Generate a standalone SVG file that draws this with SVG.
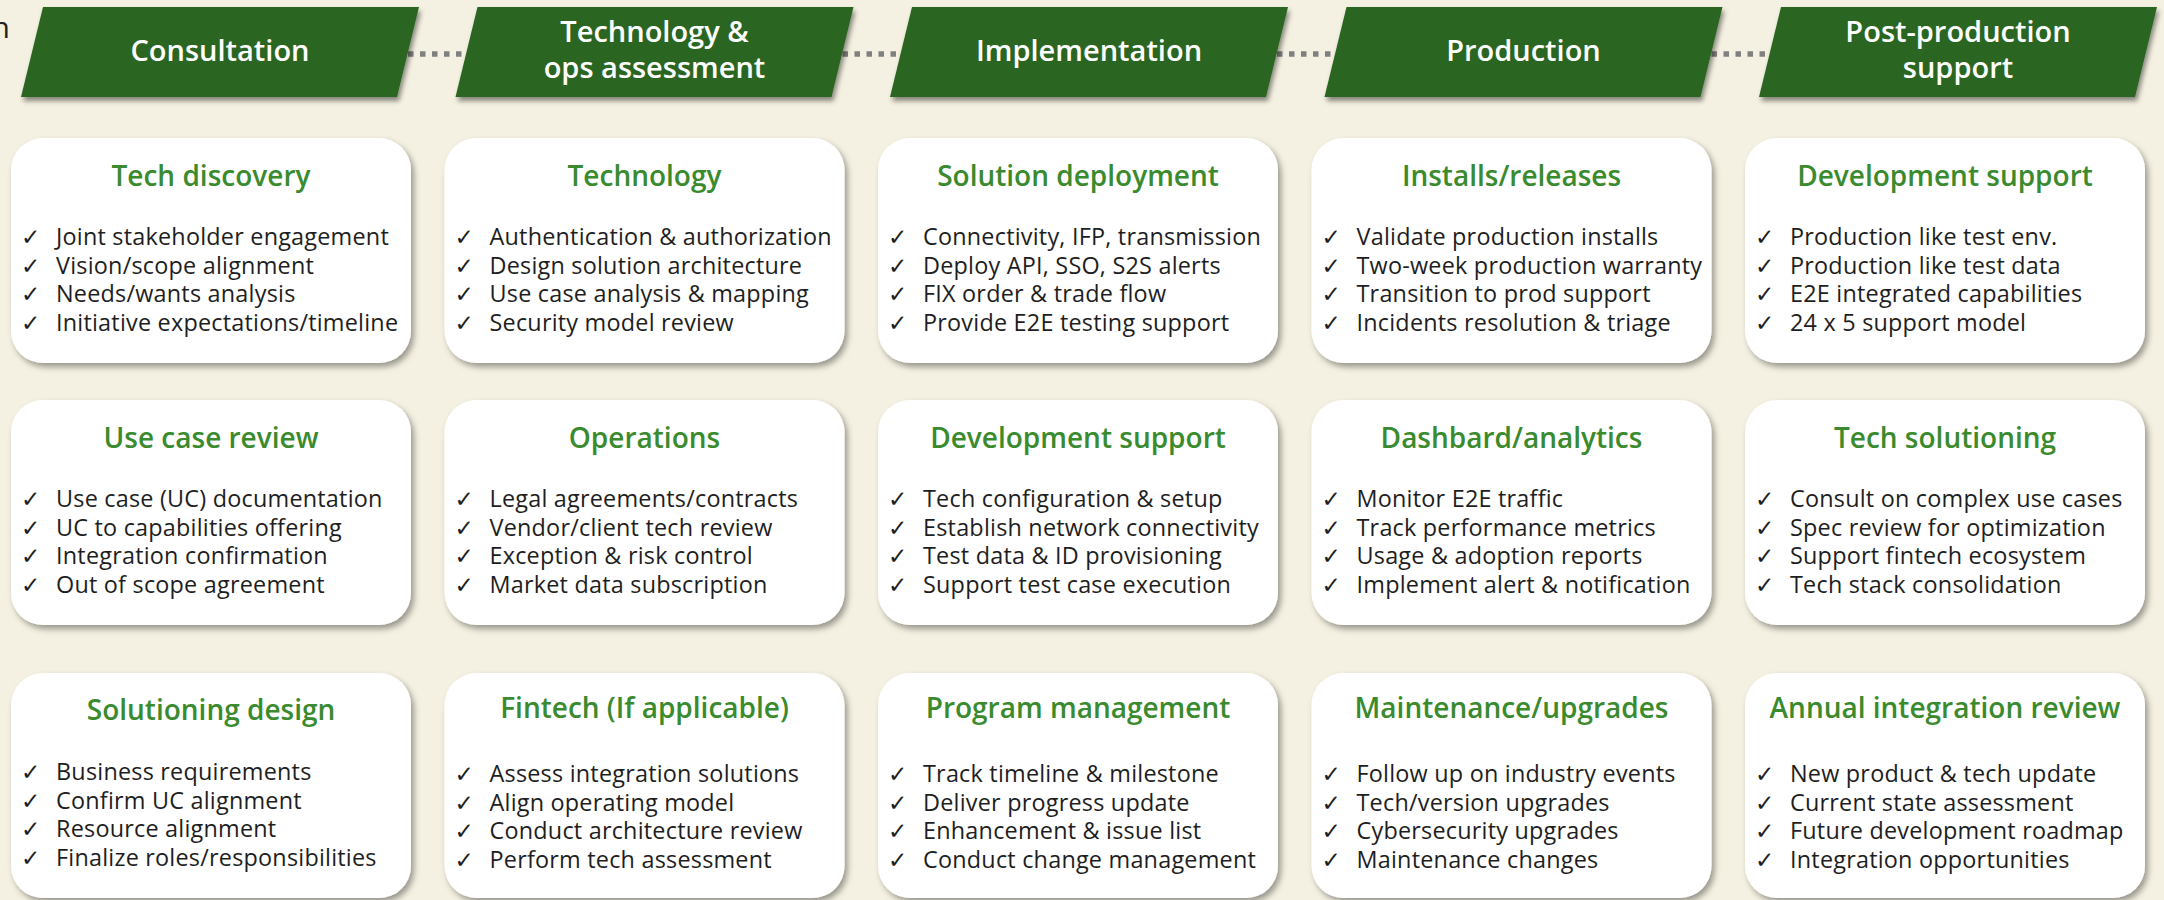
<svg xmlns="http://www.w3.org/2000/svg" width="2164" height="900" viewBox="0 0 2164 900">
  <defs>
    <filter id="hdrShadow" x="-5%" y="-10%" width="112%" height="130%">
      <feDropShadow dx="2" dy="4" stdDeviation="2.5" flood-color="#000" flood-opacity="0.45"/>
    </filter>
    <filter id="cardShadow" x="-5%" y="-5%" width="112%" height="115%">
      <feDropShadow dx="3" dy="4" stdDeviation="3" flood-color="#000" flood-opacity="0.38"/>
    </filter>
    <style>
      .phase { fill: #296621; filter: url(#hdrShadow); }
      .phase-label { font-family: "Open Sans", "Liberation Sans", sans-serif; font-weight: 600; font-size: 29px; fill: #ffffff; text-anchor: middle; }
      .card { fill: #ffffff; filter: url(#cardShadow); }
      .card-title { font-family: "Open Sans", "Liberation Sans", sans-serif; font-weight: 600; font-size: 28px; fill: #3a8a2e; text-anchor: middle; }
      .item { font-family: "Open Sans", "Liberation Sans", sans-serif; font-size: 23.4px; letter-spacing: 0.22px; fill: #1e1e1e; }
      .ck { font-family: "DejaVu Sans", sans-serif; font-size: 23px; letter-spacing: 0; fill: #1e1e1e; }
      .link { stroke: #808080; stroke-width: 5.5; stroke-dasharray: 5.5 6.5; fill: none; }
    </style>
  </defs>

  <!-- background -->
  <rect x="0" y="0" width="2164" height="900" fill="#f5f1e2"/>

  <!-- clipped letter at the far left edge -->
  <text x="10" y="38" font-family="Open Sans, Liberation Sans, sans-serif" font-size="30" fill="#222" text-anchor="end">n</text>

  <!-- dotted links between phases -->
  <g id="connectors">
    <line class="link" x1="408" y1="54" x2="466" y2="54"/>
    <line class="link" x1="842.5" y1="54" x2="900.5" y2="54"/>
    <line class="link" x1="1277" y1="54" x2="1335" y2="54"/>
    <line class="link" x1="1711.5" y1="54" x2="1769.5" y2="54"/>
  </g>

  <!-- phase headers (parallelograms) -->
  <g id="phase-consultation">
    <polygon class="phase" points="43,7 419,7 397,97 21,97"/>
    <text class="phase-label" x="220" y="61">Consultation</text>
  </g>
  <g id="phase-tech-ops">
    <polygon class="phase" points="477.5,7 853.5,7 831.5,97 455.5,97"/>
    <text class="phase-label"><tspan x="654.5" y="42">Technology &amp;</tspan><tspan x="654.5" y="77.5">ops assessment</tspan></text>
  </g>
  <g id="phase-implementation">
    <polygon class="phase" points="912,7 1288,7 1266,97 890,97"/>
    <text class="phase-label" x="1089" y="61">Implementation</text>
  </g>
  <g id="phase-production">
    <polygon class="phase" points="1346.5,7 1722.5,7 1700.5,97 1324.5,97"/>
    <text class="phase-label" x="1523.5" y="61">Production</text>
  </g>
  <g id="phase-post-production">
    <polygon class="phase" points="1781,7 2157,7 2135,97 1759,97"/>
    <text class="phase-label"><tspan x="1958" y="42">Post-production</tspan><tspan x="1958" y="77.5">support</tspan></text>
  </g>

  <!-- Row 1 -->
  <g id="card-tech-discovery">
    <rect class="card" x="11" y="138" width="400" height="225" rx="32"/>
    <text class="card-title" x="211" y="186">Tech discovery</text>
    <text class="item">
      <tspan class="ck" x="21" y="245">✓</tspan><tspan x="56" y="245">Joint stakeholder engagement</tspan>
      <tspan class="ck" x="21" y="274">✓</tspan><tspan x="56" y="274">Vision/scope alignment</tspan>
      <tspan class="ck" x="21" y="302">✓</tspan><tspan x="56" y="302">Needs/wants analysis</tspan>
      <tspan class="ck" x="21" y="331">✓</tspan><tspan x="56" y="331">Initiative expectations/timeline</tspan>
    </text>
  </g>
  <g id="card-technology">
    <rect class="card" x="444.5" y="138" width="400" height="225" rx="32"/>
    <text class="card-title" x="644.5" y="186">Technology</text>
    <text class="item">
      <tspan class="ck" x="454.5" y="245">✓</tspan><tspan x="489.5" y="245">Authentication &amp; authorization</tspan>
      <tspan class="ck" x="454.5" y="274">✓</tspan><tspan x="489.5" y="274">Design solution architecture</tspan>
      <tspan class="ck" x="454.5" y="302">✓</tspan><tspan x="489.5" y="302">Use case analysis &amp; mapping</tspan>
      <tspan class="ck" x="454.5" y="331">✓</tspan><tspan x="489.5" y="331">Security model review</tspan>
    </text>
  </g>
  <g id="card-solution-deployment">
    <rect class="card" x="878" y="138" width="400" height="225" rx="32"/>
    <text class="card-title" x="1078" y="186">Solution deployment</text>
    <text class="item">
      <tspan class="ck" x="888" y="245">✓</tspan><tspan x="923" y="245">Connectivity, IFP, transmission</tspan>
      <tspan class="ck" x="888" y="274">✓</tspan><tspan x="923" y="274">Deploy API, SSO, S2S alerts</tspan>
      <tspan class="ck" x="888" y="302">✓</tspan><tspan x="923" y="302">FIX order &amp; trade flow</tspan>
      <tspan class="ck" x="888" y="331">✓</tspan><tspan x="923" y="331">Provide E2E testing support</tspan>
    </text>
  </g>
  <g id="card-installs-releases">
    <rect class="card" x="1311.5" y="138" width="400" height="225" rx="32"/>
    <text class="card-title" x="1511.5" y="186">Installs/releases</text>
    <text class="item">
      <tspan class="ck" x="1321.5" y="245">✓</tspan><tspan x="1356.5" y="245">Validate production installs</tspan>
      <tspan class="ck" x="1321.5" y="274">✓</tspan><tspan x="1356.5" y="274">Two-week production warranty</tspan>
      <tspan class="ck" x="1321.5" y="302">✓</tspan><tspan x="1356.5" y="302">Transition to prod support</tspan>
      <tspan class="ck" x="1321.5" y="331">✓</tspan><tspan x="1356.5" y="331">Incidents resolution &amp; triage</tspan>
    </text>
  </g>
  <g id="card-development-support-post">
    <rect class="card" x="1745" y="138" width="400" height="225" rx="32"/>
    <text class="card-title" x="1945" y="186">Development support</text>
    <text class="item">
      <tspan class="ck" x="1755" y="245">✓</tspan><tspan x="1790" y="245">Production like test env.</tspan>
      <tspan class="ck" x="1755" y="274">✓</tspan><tspan x="1790" y="274">Production like test data</tspan>
      <tspan class="ck" x="1755" y="302">✓</tspan><tspan x="1790" y="302">E2E integrated capabilities</tspan>
      <tspan class="ck" x="1755" y="331">✓</tspan><tspan x="1790" y="331">24 x 5 support model</tspan>
    </text>
  </g>

  <!-- Row 2 -->
  <g id="card-use-case-review">
    <rect class="card" x="11" y="400" width="400" height="225" rx="32"/>
    <text class="card-title" x="211" y="448">Use case review</text>
    <text class="item">
      <tspan class="ck" x="21" y="507">✓</tspan><tspan x="56" y="507">Use case (UC) documentation</tspan>
      <tspan class="ck" x="21" y="536">✓</tspan><tspan x="56" y="536">UC to capabilities offering</tspan>
      <tspan class="ck" x="21" y="564">✓</tspan><tspan x="56" y="564">Integration confirmation</tspan>
      <tspan class="ck" x="21" y="593">✓</tspan><tspan x="56" y="593">Out of scope agreement</tspan>
    </text>
  </g>
  <g id="card-operations">
    <rect class="card" x="444.5" y="400" width="400" height="225" rx="32"/>
    <text class="card-title" x="644.5" y="448">Operations</text>
    <text class="item">
      <tspan class="ck" x="454.5" y="507">✓</tspan><tspan x="489.5" y="507">Legal agreements/contracts</tspan>
      <tspan class="ck" x="454.5" y="536">✓</tspan><tspan x="489.5" y="536">Vendor/client tech review</tspan>
      <tspan class="ck" x="454.5" y="564">✓</tspan><tspan x="489.5" y="564">Exception &amp; risk control</tspan>
      <tspan class="ck" x="454.5" y="593">✓</tspan><tspan x="489.5" y="593">Market data subscription</tspan>
    </text>
  </g>
  <g id="card-development-support-impl">
    <rect class="card" x="878" y="400" width="400" height="225" rx="32"/>
    <text class="card-title" x="1078" y="448">Development support</text>
    <text class="item">
      <tspan class="ck" x="888" y="507">✓</tspan><tspan x="923" y="507">Tech configuration &amp; setup</tspan>
      <tspan class="ck" x="888" y="536">✓</tspan><tspan x="923" y="536">Establish network connectivity</tspan>
      <tspan class="ck" x="888" y="564">✓</tspan><tspan x="923" y="564">Test data &amp; ID provisioning</tspan>
      <tspan class="ck" x="888" y="593">✓</tspan><tspan x="923" y="593">Support test case execution</tspan>
    </text>
  </g>
  <g id="card-dashboard-analytics">
    <rect class="card" x="1311.5" y="400" width="400" height="225" rx="32"/>
    <text class="card-title" x="1511.5" y="448">Dashbard/analytics</text>
    <text class="item">
      <tspan class="ck" x="1321.5" y="507">✓</tspan><tspan x="1356.5" y="507">Monitor E2E traffic</tspan>
      <tspan class="ck" x="1321.5" y="536">✓</tspan><tspan x="1356.5" y="536">Track performance metrics</tspan>
      <tspan class="ck" x="1321.5" y="564">✓</tspan><tspan x="1356.5" y="564">Usage &amp; adoption reports</tspan>
      <tspan class="ck" x="1321.5" y="593">✓</tspan><tspan x="1356.5" y="593">Implement alert &amp; notification</tspan>
    </text>
  </g>
  <g id="card-tech-solutioning">
    <rect class="card" x="1745" y="400" width="400" height="225" rx="32"/>
    <text class="card-title" x="1945" y="448">Tech solutioning</text>
    <text class="item">
      <tspan class="ck" x="1755" y="507">✓</tspan><tspan x="1790" y="507">Consult on complex use cases</tspan>
      <tspan class="ck" x="1755" y="536">✓</tspan><tspan x="1790" y="536">Spec review for optimization</tspan>
      <tspan class="ck" x="1755" y="564">✓</tspan><tspan x="1790" y="564">Support fintech ecosystem</tspan>
      <tspan class="ck" x="1755" y="593">✓</tspan><tspan x="1790" y="593">Tech stack consolidation</tspan>
    </text>
  </g>

  <!-- Row 3 -->
  <g id="card-solutioning-design">
    <rect class="card" x="11" y="673" width="400" height="225" rx="32"/>
    <text class="card-title" x="211" y="720">Solutioning design</text>
    <text class="item">
      <tspan class="ck" x="21" y="780">✓</tspan><tspan x="56" y="780">Business requirements</tspan>
      <tspan class="ck" x="21" y="809">✓</tspan><tspan x="56" y="809">Confirm UC alignment</tspan>
      <tspan class="ck" x="21" y="837">✓</tspan><tspan x="56" y="837">Resource alignment</tspan>
      <tspan class="ck" x="21" y="866">✓</tspan><tspan x="56" y="866">Finalize roles/responsibilities</tspan>
    </text>
  </g>
  <g id="card-fintech">
    <rect class="card" x="444.5" y="673" width="400" height="225" rx="32"/>
    <text class="card-title" x="644.5" y="718">Fintech (If applicable)</text>
    <text class="item">
      <tspan class="ck" x="454.5" y="782">✓</tspan><tspan x="489.5" y="782">Assess integration solutions</tspan>
      <tspan class="ck" x="454.5" y="811">✓</tspan><tspan x="489.5" y="811">Align operating model</tspan>
      <tspan class="ck" x="454.5" y="839">✓</tspan><tspan x="489.5" y="839">Conduct architecture review</tspan>
      <tspan class="ck" x="454.5" y="868">✓</tspan><tspan x="489.5" y="868">Perform tech assessment</tspan>
    </text>
  </g>
  <g id="card-program-management">
    <rect class="card" x="878" y="673" width="400" height="225" rx="32"/>
    <text class="card-title" x="1078" y="718">Program management</text>
    <text class="item">
      <tspan class="ck" x="888" y="782">✓</tspan><tspan x="923" y="782">Track timeline &amp; milestone</tspan>
      <tspan class="ck" x="888" y="811">✓</tspan><tspan x="923" y="811">Deliver progress update</tspan>
      <tspan class="ck" x="888" y="839">✓</tspan><tspan x="923" y="839">Enhancement &amp; issue list</tspan>
      <tspan class="ck" x="888" y="868">✓</tspan><tspan x="923" y="868">Conduct change management</tspan>
    </text>
  </g>
  <g id="card-maintenance-upgrades">
    <rect class="card" x="1311.5" y="673" width="400" height="225" rx="32"/>
    <text class="card-title" x="1511.5" y="718">Maintenance/upgrades</text>
    <text class="item">
      <tspan class="ck" x="1321.5" y="782">✓</tspan><tspan x="1356.5" y="782">Follow up on industry events</tspan>
      <tspan class="ck" x="1321.5" y="811">✓</tspan><tspan x="1356.5" y="811">Tech/version upgrades</tspan>
      <tspan class="ck" x="1321.5" y="839">✓</tspan><tspan x="1356.5" y="839">Cybersecurity upgrades</tspan>
      <tspan class="ck" x="1321.5" y="868">✓</tspan><tspan x="1356.5" y="868">Maintenance changes</tspan>
    </text>
  </g>
  <g id="card-annual-integration-review">
    <rect class="card" x="1745" y="673" width="400" height="225" rx="32"/>
    <text class="card-title" x="1945" y="718">Annual integration review</text>
    <text class="item">
      <tspan class="ck" x="1755" y="782">✓</tspan><tspan x="1790" y="782">New product &amp; tech update</tspan>
      <tspan class="ck" x="1755" y="811">✓</tspan><tspan x="1790" y="811">Current state assessment</tspan>
      <tspan class="ck" x="1755" y="839">✓</tspan><tspan x="1790" y="839">Future development roadmap</tspan>
      <tspan class="ck" x="1755" y="868">✓</tspan><tspan x="1790" y="868">Integration opportunities</tspan>
    </text>
  </g>
</svg>
